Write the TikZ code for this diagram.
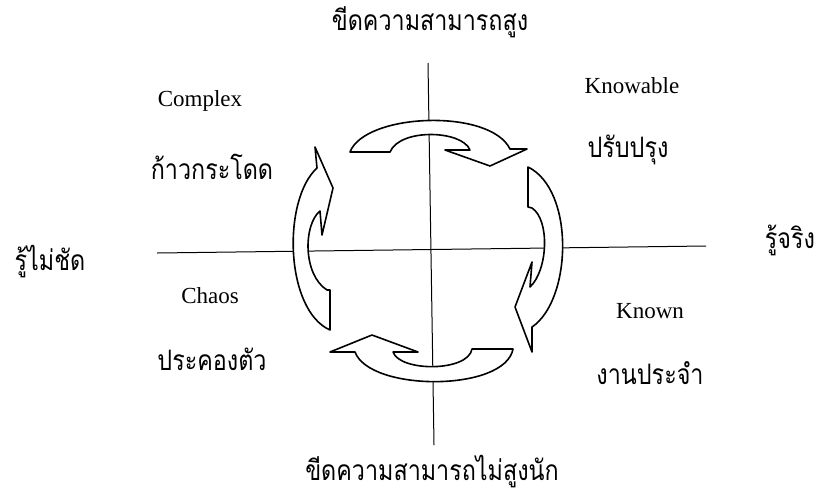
\documentclass[tikz,border=0pt]{standalone}
\usepackage{fontspec}
\usepackage{graphicx}
\setmainfont{Liberation Serif}
\newfontfamily\thaifont[Script=Thai]{Loma}
\newcommand{\thaitxt}[1]{\scalebox{1.06}[1.28]{#1}}
\tikzset{
  axisline/.style={line width=1pt, black},
  cyclearrow/.style={line width=1.6pt, black, fill=white, line join=round},
  lat/.style={font=\fontsize{23}{25}\selectfont, inner sep=0pt},
  th/.style={font=\thaifont\fontsize{22}{26}\selectfont, inner sep=0pt},
}
\begin{document}
\begin{tikzpicture}[x=1pt,y=-1pt]
\useasboundingbox (0,0) rectangle (834,496);
% axes
\coordinate (ytop) at (428,63);
\coordinate (ybot) at (434,445);
\coordinate (xl) at (157,253);
\coordinate (xr) at (706,246);
\draw[axisline] (ytop) -- (ybot);
\draw[axisline] (xl) -- (xr);
% top arrow (left to right)
\draw[cyclearrow] (350,152) .. controls (365,113) and (490,108) .. (510,149)
  -- (527,149) -- (490,166) -- (445,150) -- (470,150)
  .. controls (462,130) and (400,128) .. (390,152) -- cycle;
% right arrow (top to bottom)
\draw[cyclearrow] (528,167) .. controls (575,190) and (572,300) .. (532,327)
  -- (532,352) -- (515,307) -- (532,262) -- (530,287)
  .. controls (548,270) and (550,220) .. (532,208) -- (528,207) -- cycle;
% bottom arrow (right to left)
\draw[cyclearrow] (513,349) .. controls (505,392) and (370,392) .. (355,352)
  -- (330,352) -- (372,335) -- (418,352) -- (393,352)
  .. controls (400,372) and (468,372) .. (472,349) -- cycle;
% left arrow (bottom to top)
\draw[cyclearrow] (330,330) .. controls (285,310) and (282,200) .. (317,168)
  -- (315,147) -- (333,188) -- (322,235) -- (320,211)
  .. controls (303,225) and (303,275) .. (327,290) -- (330,290) -- cycle;
% texts
\node[th] (hi) at (430,22) {\thaitxt{ขีดความสามารถสูง}};
\node[th] (lo) at (432,472) {\thaitxt{ขีดความสามารถไม่สูงนัก}};
\node[th] (unclear) at (50,262) {\thaitxt{รู้ไม่ชัด}};
\node[th] (know) at (790,240) {\thaitxt{รู้จริง}};
\node[lat] (complex) at (200,101) {Complex};
\node[th] (leap) at (212,167) {\thaitxt{ก้าวกระโดด}};
\node[lat] (knowable) at (632,86) {Knowable};
\node[th] (improve) at (628,150) {\thaitxt{ปรับปรุง}};
\node[lat] (chaos) at (210,296) {Chaos};
\node[th] (sustain) at (212,359) {\thaitxt{ประคองตัว}};
\node[lat] (known) at (650,311) {Known};
\node[th] (routine) at (650,373) {\thaitxt{งานประจำ}};
\end{tikzpicture}
\end{document}
